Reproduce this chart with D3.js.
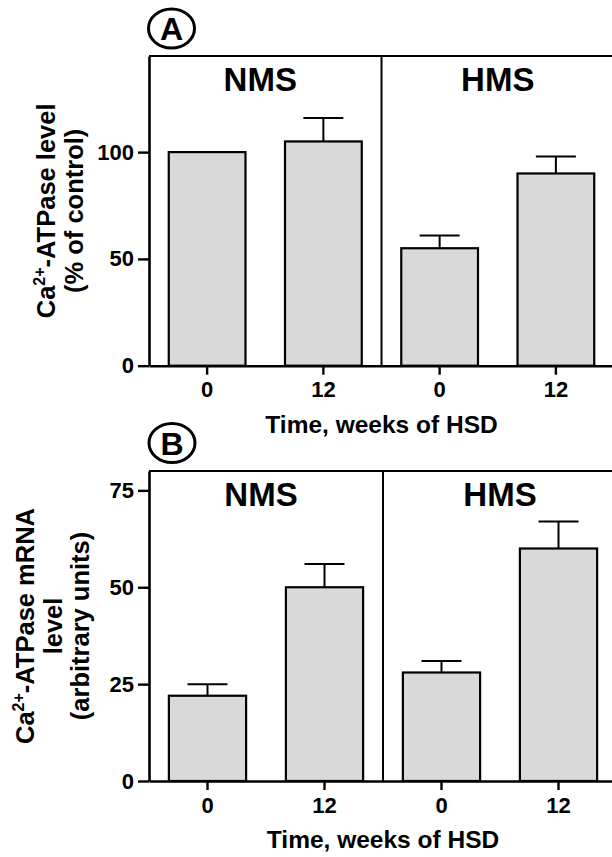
<!DOCTYPE html>
<html>
<head>
<meta charset="utf-8">
<script src="https://cdn.jsdelivr.net/npm/d3@7"></script>
<style>
  body { margin: 0; background: #fff; }
  svg { display: block; font-family: "Liberation Sans", Arial, sans-serif; }
</style>
</head>
<body>
<div id="chart"></div>
<script>
// data
const groups = ["NMS", "HMS"];
const weekLabels = ["0", "12", "0", "12"];
const atpaseMean = [100, 105, 55, 90];
const atpaseErr = [0, 11, 6, 8];
const mrnaMean = [22, 50, 28, 60];
const mrnaErr = [3, 6, 3, 7];
const atpaseTicks = [0, 50, 100];
const mrnaTicks = [0, 25, 50, 75];

const width = 612, height = 857;

const svg = d3.select('#chart')
    .append('svg')
    .attr('width', width)
    .attr('height', height);

function drawPanel(opts) {
    const x = d3.scaleBand()
        .domain(d3.range(weekLabels.length))
        .range([149, opts.right])
        .paddingInner(0.34)
        .paddingOuter(0.17);

    const y = d3.scaleLinear()
        .domain([0, opts.yMax])
        .range([opts.bottom, opts.top]);

    const g = svg.append('g');

    // frame top + divider between the two groups
    g.append('line')
        .attr('x1', 149).attr('x2', opts.right)
        .attr('y1', opts.top).attr('y2', opts.top)
        .attr('stroke', '#000').attr('stroke-width', 2);

    const divX = 149 + (opts.right - 149) / 2;
    g.append('line')
        .attr('x1', divX).attr('x2', divX)
        .attr('y1', opts.top).attr('y2', opts.bottom)
        .attr('stroke', '#000').attr('stroke-width', 2);

    // group labels
    g.selectAll('.grp')
        .data(groups)
        .enter()
        .append('text')
        .attr('class', 'grp')
        .attr('x', (d, i) => i === 0 ? (149 + divX) / 2 - 5 : (divX + opts.right) / 2)
        .attr('y', opts.top + 34.5)
        .attr('text-anchor', 'middle')
        .attr('font-size', 33)
        .attr('font-weight', 'bold')
        .text(d => d);

    // bars
    g.selectAll('.bar')
        .data(opts.mean)
        .enter()
        .append('rect')
        .attr('class', 'bar')
        .attr('x', (d, i) => x(i))
        .attr('y', d => y(d))
        .attr('width', x.bandwidth())
        .attr('height', d => y(0) - y(d))
        .attr('fill', '#d9d9d9')
        .attr('stroke', '#000')
        .attr('stroke-width', 2.2);

    // upper error bars only
    const errs = opts.mean.map((m, i) => ({ i: i, m: m, e: opts.err[i] })).filter(d => d.e > 0);
    const cx = d => x(d.i) + x.bandwidth() / 2;
    g.selectAll('.err')
        .data(errs)
        .enter()
        .append('line')
        .attr('x1', cx).attr('x2', cx)
        .attr('y1', d => y(d.m)).attr('y2', d => y(d.m + d.e))
        .attr('stroke', '#000').attr('stroke-width', 2);
    g.selectAll('.cap')
        .data(errs)
        .enter()
        .append('line')
        .attr('x1', d => cx(d) - 20).attr('x2', d => cx(d) + 20)
        .attr('y1', d => y(d.m + d.e)).attr('y2', d => y(d.m + d.e))
        .attr('stroke', '#000').attr('stroke-width', 2);

    // axes
    const yAxis = d3.axisLeft(y)
        .tickValues(opts.ticks)
        .tickSize(11)
        .tickSizeOuter(0)
        .tickPadding(4);
    const yg = g.append('g')
        .attr('transform', 'translate(149,0)')
        .call(yAxis);

    const xAxis = d3.axisBottom(x)
        .tickSize(9)
        .tickSizeOuter(0)
        .tickPadding(7)
        .tickFormat(i => weekLabels[i]);
    const xg = g.append('g')
        .attr('transform', `translate(0,${opts.bottom})`)
        .call(xAxis);

    [yg, xg].forEach(a => {
        a.attr('font-family', null).attr('font-size', null);
        a.select('.domain').attr('stroke-width', 2.6);
        a.selectAll('.tick line').attr('stroke-width', 2.4);
        a.selectAll('.tick text')
            .attr('font-size', 22)
            .attr('font-weight', 'bold')
            .attr('fill', '#000');
    });

    // x title
    g.append('text')
        .attr('x', divX)
        .attr('y', opts.bottom + 67)
        .attr('text-anchor', 'middle')
        .attr('font-size', 24.5)
        .attr('font-weight', 'bold')
        .text('Time, weeks of HSD');

    // y title lines
    const yc = (opts.top + opts.bottom) / 2;
    opts.yTitle.forEach((line, k) => {
        const t = g.append('text')
            .attr('transform', `translate(${opts.yTitleX[k]},${yc}) rotate(-90)`)
            .attr('text-anchor', 'middle')
            .attr('font-size', 25.5)
            .attr('font-weight', 'bold');
        if (line.sup) {
            t.append('tspan').text(line.pre);
            t.append('tspan').attr('font-size', 16).attr('dy', -10).text(line.sup);
            t.append('tspan').attr('dy', 10).text(line.post);
        } else {
            t.text(line.text);
        }
    });

    // circled panel letter
    svg.append('ellipse')
        .attr('cx', opts.letterX).attr('cy', opts.letterY)
        .attr('rx', 23).attr('ry', 19.5)
        .attr('fill', 'none')
        .attr('stroke', '#000')
        .attr('stroke-width', 3);
    svg.append('text')
        .attr('x', opts.letterX).attr('y', opts.letterY + 11.5)
        .attr('text-anchor', 'middle')
        .attr('font-size', 32)
        .attr('font-weight', 'bold')
        .text(opts.letter);
}

drawPanel({
    mean: atpaseMean, err: atpaseErr, ticks: atpaseTicks,
    yMax: 145, top: 56, bottom: 365.7, right: 614,
    yTitle: [{ pre: 'Ca', sup: '2+', post: '-ATPase level' }, { text: '(% of control)' }],
    yTitleX: [55, 83],
    letter: 'A', letterX: 171.5, letterY: 28.5
});

drawPanel({
    mean: mrnaMean, err: mrnaErr, ticks: mrnaTicks,
    yMax: 80, top: 471, bottom: 781, right: 617,
    yTitle: [{ pre: 'Ca', sup: '2+', post: '-ATPase mRNA' }, { text: 'level' }, { text: '(arbitrary units)' }],
    yTitleX: [34, 62, 89],
    letter: 'B', letterX: 172, letterY: 443
});
</script>
</body>
</html>
